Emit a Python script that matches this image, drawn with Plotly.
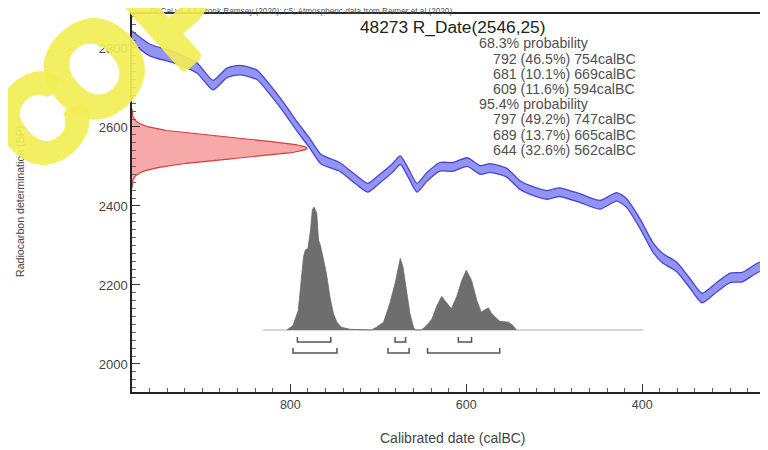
import numpy as np
import plotly.graph_objects as go

# ---------------- data ----------------
# Calibration curve (calBC, BP) and 1-sigma half-width
curve_year = [980, 960, 931, 906, 888, 872, 857, 838, 823, 808, 792, 778, 765, 744, 729, 712, 700,
              684, 675, 666, 656, 645, 630, 615, 599, 584, 573, 554, 539, 528, 508, 494, 471, 448,
              429, 418, 403, 388, 377, 361, 346, 332, 315, 300, 286, 266, 257]
curve_bp = [2828, 2795, 2775, 2749, 2706, 2737, 2744, 2732, 2694, 2651, 2600, 2559, 2518, 2499, 2473,
            2446, 2466, 2496, 2516, 2484, 2446, 2473, 2499, 2499, 2511, 2491, 2496, 2484, 2453, 2441,
            2428, 2435, 2420, 2403, 2423, 2408, 2357, 2296, 2268, 2246, 2205, 2167, 2195, 2218, 2220,
            2246, 2230]
curve_err = [15, 15, 14, 13, 12, 12, 12, 12, 12, 12, 12, 12, 12, 11, 11, 11, 11,
             11, 11, 11, 11, 11, 11, 11, 11, 11, 11, 11, 11, 11, 11, 11, 11, 11,
             11, 11, 12, 12, 12, 12, 12, 12, 12, 12, 12, 12, 12]

# Radiocarbon measurement
r_date_name = "48273 R_Date(2546,25)"
r_date_bp = 2546
r_date_err = 25

# Calibrated (posterior) distribution, relative probability
post_year = [804, 797, 791, 787, 785, 783, 780, 777, 775, 773, 770, 768, 766, 763, 759, 755, 751, 747, 742, 732, 721,
             708, 702, 694, 687, 681, 677, 675, 672, 668, 664, 660, 658,
             651, 645, 639, 634, 628, 622, 617, 611, 605, 600, 594, 588, 583, 575, 571, 562, 552, 547, 543]
post_prob = [0, 0.036, 0.158, 0.432, 0.596, 0.650, 0.664, 0.814, 0.978, 1.0, 0.951, 0.732, 0.691, 0.596, 0.459, 0.268, 0.131, 0.063, 0.022, 0.005, 0,
             0, 0.022, 0.063, 0.213, 0.377, 0.514, 0.582, 0.514, 0.322, 0.131, 0.022, 0,
             0, 0.036, 0.090, 0.186, 0.273, 0.213, 0.172, 0.268, 0.404, 0.486, 0.404, 0.240, 0.145, 0.180, 0.131, 0.071, 0.063, 0.036, 0]
post_span = [831, 399]

# Highest probability density ranges
range68 = [(792, 754), (681, 669), (609, 594)]
pct68 = ["46.5%", "10.1%", "11.6%"]
range95 = [(797, 747), (689, 665), (644, 562)]
pct95 = ["49.2%", "13.7%", "32.6%"]

header = "OxCal v4.4.2 Bronk Ramsey (2020); r:5; Atmospheric data from Reimer et al (2020)"
x_title = "Calibrated date (calBC)"
y_title = "Radiocarbon determination (BP)"
watermark = ["C", "O", "P"]

# ---------------- layout geometry ----------------
# the page body has an 8px margin, so the figure starts at screen (8, 8)
OFF = 8
W, H = 768 - OFF, 450 - OFF
L, R, T, B = 132 - OFF, 0, 14 - OFF, 58
PW, PH = W - L - R, H - T - B


def px(x):
    return (x - OFF - L) / PW


def py(y):
    return (H - B - (y - OFF)) / PH


FONT = "Liberation Sans, Arial, sans-serif"

fig = go.Figure()

# calibration curve band
up = [b + e for b, e in zip(curve_bp, curve_err)]
lo = [b - e for b, e in zip(curve_bp, curve_err)]
fig.add_trace(go.Scatter(x=curve_year, y=up, mode="lines", line=dict(color="#4646d2", width=1.3, shape="spline", smoothing=0.6),
                         hoverinfo="skip", showlegend=False))
fig.add_trace(go.Scatter(x=curve_year, y=lo, mode="lines", line=dict(color="#4646d2", width=1.3, shape="spline", smoothing=0.6),
                         fill="tonexty", fillcolor="rgba(128,128,240,0.85)", hoverinfo="skip", showlegend=False))

# radiocarbon measurement distribution (normal, on y axis)
bp_grid = np.linspace(r_date_bp - 4 * r_date_err, r_date_bp + 4 * r_date_err, 241)
dens = np.exp(-0.5 * ((bp_grid - r_date_bp) / r_date_err) ** 2)
fig.add_trace(go.Scatter(x=dens, y=bp_grid, xaxis="x2", yaxis="y", mode="lines",
                         line=dict(color="#d83c3c", width=1.2), fill="tozerox",
                         fillcolor="rgba(244,140,140,0.75)", hoverinfo="skip", showlegend=False))

# posterior baseline
fig.add_trace(go.Scatter(x=post_span, y=[0, 0], xaxis="x", yaxis="y2", mode="lines",
                         line=dict(color="#c8c8c8", width=1.5), hoverinfo="skip", showlegend=False))
# posterior distribution
fig.add_trace(go.Scatter(x=post_year, y=post_prob, xaxis="x", yaxis="y2", mode="lines",
                         line=dict(color="#6a6a6a", width=0.8), fill="tozeroy", fillcolor="#6e6e6e",
                         hoverinfo="skip", showlegend=False))


def bracket_xy(ranges, top, bot):
    xs, ys = [], []
    for a, b in ranges:
        xs += [a, a, b, b, None]
        ys += [top, bot, bot, top, None]
    return xs, ys


for rng, top, bot in [(range68, -0.057, -0.098), (range95, -0.146, -0.187)]:
    bx, by = bracket_xy(rng, top, bot)
    fig.add_trace(go.Scatter(x=bx, y=by, xaxis="x", yaxis="y2", mode="lines",
                             line=dict(color="#555555", width=1.5), hoverinfo="skip", showlegend=False))

ann = []
# header and title
ann.append(dict(text=header, x=px(148), y=py(11.5), xref="paper", yref="paper", xanchor="left", yanchor="middle",
                showarrow=False, font=dict(family=FONT, size=8.2, color="#555555")))
ann.append(dict(text=r_date_name, x=px(452), y=py(27), xref="paper", yref="paper", xanchor="center", yanchor="middle",
                showarrow=False, borderpad=0, font=dict(family=FONT, size=17.3, color="#222222")))

lines = [("68.3% probability", 478)]
lines += [(f"{a} ({p}) {b}calBC", 492) for (a, b), p in zip(range68, pct68)]
lines += [("95.4% probability", 478)]
lines += [(f"{a} ({p}) {b}calBC", 492) for (a, b), p in zip(range95, pct95)]
for i, (t, x0) in enumerate(lines):
    ann.append(dict(text=t, x=px(x0), y=py(43.5 + 15.2 * i), xref="paper", yref="paper", xanchor="left",
                    yanchor="middle", showarrow=False, borderpad=0,
                    font=dict(family=FONT, size=14.2, color="#505050")))

# axis titles
ann.append(dict(text=x_title, x=px(453), y=py(438), xref="paper", yref="paper", xanchor="center", yanchor="middle",
                showarrow=False, font=dict(family=FONT, size=14, color="#444444")))
ann.append(dict(text=y_title, x=px(20), y=py(202), xref="paper", yref="paper", xanchor="center", yanchor="middle",
                textangle=-90, showarrow=False, font=dict(family=FONT, size=10.6, color="#444444")))

# watermark
YEL = "#f2ee55"
thick = ", ".join(f"{dx}px {dy}px 0 {YEL}" for dx, dy in
                  [(4, 0), (-4, 0), (0, 4), (0, -4), (3, 3), (-3, -3), (3, -3), (-3, 3),
                   (2, 0), (-2, 0), (0, 2), (0, -2)])
for ch, cx, cy, fs in zip(watermark, [40, 94, 180], [120, 68, 14], [118, 128, 124]):
    ann.append(dict(text=f"<b>{ch}</b>", x=px(cx), y=py(cy), xref="paper", yref="paper", xanchor="center",
                    yanchor="middle", textangle=-42, showarrow=False, opacity=0.92,
                    font=dict(family=FONT, size=fs, color=YEL, shadow=thick)))

fig.update_layout(
    width=W, height=H, autosize=False,
    margin=dict(l=L, r=R, t=T, b=B),
    paper_bgcolor="white", plot_bgcolor="white",
    showlegend=False,
    xaxis=dict(range=[980, 257], showline=True, linecolor="#222222", linewidth=1.5, mirror=True,
               ticks="inside", ticklen=8, tickwidth=1.2, tickcolor="#333333", tick0=0, dtick=200,
               minor=dict(dtick=20, ticks="inside", ticklen=4, tickcolor="#666666"),
               showgrid=False, zeroline=False,
               tickfont=dict(family=FONT, size=12.5, color="#444444")),
    yaxis=dict(range=[1929, 2886], showline=True, linecolor="#222222", linewidth=1.5,
               ticks="inside", ticklen=8, tickwidth=1.2, tickcolor="#333333", tick0=0, dtick=200,
               minor=dict(dtick=20, ticks="inside", ticklen=4, tickcolor="#666666"),
               showgrid=False, zeroline=False,
               tickfont=dict(family=FONT, size=13, color="#444444")),
    xaxis2=dict(overlaying="x", range=[0, 3.634], visible=False, anchor="y"),
    yaxis2=dict(overlaying="y", range=[-0.505, 2.572], visible=False, anchor="x"),
    annotations=ann,
)

fig.write_html("out.html")
